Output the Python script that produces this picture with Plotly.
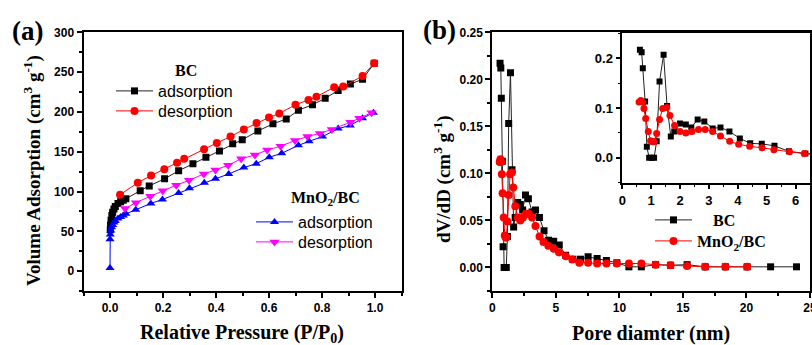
import plotly.graph_objects as go

# ---------------- data: (a) N2 isotherms ----------------
bc_ads_p = [0.001, 0.002, 0.004, 0.007, 0.010, 0.015, 0.020, 0.030, 0.040, 0.050, 0.060,
            0.114, 0.148, 0.206, 0.259, 0.313, 0.362, 0.413, 0.463, 0.499, 0.558, 0.615,
            0.665, 0.711, 0.764, 0.812, 0.861, 0.907, 0.953, 0.997]
bc_ads_v = [52, 58, 64, 70, 74, 78, 81, 85, 87, 89, 91,
            101, 107, 116, 126, 135, 143, 151, 160, 165, 176, 185,
            191, 202, 209, 217, 227, 235, 241, 261]

bc_des_p = [0.038, 0.105, 0.155, 0.205, 0.253, 0.280, 0.355, 0.403, 0.455, 0.505, 0.553,
            0.600, 0.639, 0.700, 0.749, 0.779, 0.846, 0.880, 0.953, 0.997]
bc_des_v = [96, 111, 120, 128, 136, 141, 153, 161, 169, 178, 186,
            193, 198, 209, 215, 219, 231, 232, 245, 261]

mn_ads_p = [0.0, 0.0, 0.001, 0.003, 0.006, 0.010, 0.015, 0.020, 0.030, 0.040, 0.050, 0.060,
            0.097, 0.154, 0.198, 0.259, 0.300, 0.356, 0.398, 0.448, 0.505, 0.552, 0.601,
            0.648, 0.711, 0.751, 0.802, 0.861, 0.907, 0.953, 0.994]
mn_ads_v = [4, 40, 46, 51, 55, 58, 61, 63, 66, 68, 70, 72,
            77, 85, 90, 98, 104, 111, 116, 122, 130, 135, 143,
            148, 158, 163, 169, 179, 183, 192, 199]

mn_des_p = [0.057, 0.098, 0.152, 0.199, 0.250, 0.298, 0.354, 0.398, 0.446, 0.495, 0.547,
            0.593, 0.644, 0.698, 0.745, 0.792, 0.837, 0.907, 0.941, 0.987]
mn_des_v = [78.5, 86, 94, 101, 108, 114, 122, 127, 133, 141, 146,
            152, 157, 164, 169, 173, 178, 187, 192, 199]

# ---------------- data: (b) pore size distribution ----------------
bc_d = [0.61, 0.67, 0.71, 0.79, 0.85, 0.93, 1.02, 1.10, 1.19, 1.29, 1.43, 1.55, 1.68, 1.80,
        2.00, 2.20, 2.39, 2.61, 2.84, 3.13, 3.40, 3.71, 4.07, 4.43, 4.83, 5.27, 5.77, 6.34,
        6.94, 7.54, 8.25, 8.98, 9.80, 10.75, 11.73, 12.85, 14.03, 15.33, 16.75, 18.34,
        20.05, 21.90, 23.94]
bc_dv = [0.217, 0.212, 0.180, 0.113, 0.022, 0.0, 0.0, 0.0, 0.033, 0.153, 0.207, 0.104, 0.043,
         0.053, 0.069, 0.067, 0.061, 0.077, 0.073, 0.059, 0.061, 0.053, 0.039, 0.029, 0.028,
         0.024, 0.013, 0.0088, 0.0088, 0.0113, 0.0096, 0.0074, 0.0050, 0.0007, 0.0007, 0.0030,
         0.0024, 0.0030, 0.0007, 0.0007, 0.0007, 0.0007, 0.0007]

mn_d = [0.58, 0.64, 0.70, 0.75, 0.81, 0.90, 0.98, 1.05, 1.11, 1.19, 1.29, 1.40, 1.54, 1.65,
        1.81, 2.00, 2.20, 2.41, 2.64, 2.87, 3.13, 3.40, 3.72, 4.03, 4.41, 4.84, 5.25, 5.79,
        6.30, 6.85, 7.54, 8.25, 8.98, 9.80, 10.75, 11.73, 12.85, 14.03, 15.33, 16.75, 18.34,
        20.05]
mn_dv = [0.112, 0.115, 0.112, 0.099, 0.079, 0.053, 0.034, 0.032, 0.032, 0.049, 0.077, 0.099,
         0.101, 0.085, 0.065, 0.053, 0.050, 0.053, 0.057, 0.057, 0.053, 0.044, 0.033, 0.027,
         0.023, 0.020, 0.016, 0.012, 0.0085, 0.0050, 0.0050, 0.0042, 0.0042, 0.0042, 0.0042,
         0.0042, 0.0030, 0.0024, 0.0017, 0.0007, 0.0007, 0.0007]

W, H = 812, 345
SANS = "Liberation Sans"
SERIF = "Liberation Serif"

def px(x):
    return x / W

def py(y):
    return 1 - y / H

fig = go.Figure()

# (a)
fig.add_trace(go.Scatter(x=bc_ads_p, y=bc_ads_v, mode="lines+markers", name="adsorption",
                         line=dict(color="#222222", width=1),
                         marker=dict(symbol="square", size=7, color="black"),
                         xaxis="x", yaxis="y", legend="legend"))
fig.add_trace(go.Scatter(x=bc_des_p, y=bc_des_v, mode="lines+markers", name="desorption",
                         line=dict(color="red", width=1),
                         marker=dict(symbol="circle", size=8, color="red"),
                         xaxis="x", yaxis="y", legend="legend2"))
fig.add_trace(go.Scatter(x=mn_ads_p, y=mn_ads_v, mode="lines+markers", name="adsorption",
                         line=dict(color="blue", width=1),
                         marker=dict(symbol="triangle-up", size=8, color="blue"),
                         xaxis="x", yaxis="y", legend="legend3"))
fig.add_trace(go.Scatter(x=mn_des_p, y=mn_des_v, mode="lines+markers", name="desorption",
                         line=dict(color="magenta", width=1),
                         marker=dict(symbol="triangle-down", size=9, color="magenta"),
                         xaxis="x", yaxis="y", legend="legend4"))

# (b) main
fig.add_trace(go.Scatter(x=bc_d, y=bc_dv, mode="lines+markers", name="\u00a0\u00a0\u00a0\u00a0BC",
                         line=dict(color="#222222", width=1),
                         marker=dict(symbol="square", size=7, color="black"),
                         xaxis="x2", yaxis="y2", legend="legend5"))
fig.add_trace(go.Scatter(x=mn_d, y=mn_dv, mode="lines+markers", name="MnO<sub>2</sub>/BC",
                         line=dict(color="red", width=1),
                         marker=dict(symbol="circle", size=8, color="red"),
                         xaxis="x2", yaxis="y2", legend="legend6"))
# (b) inset
fig.add_trace(go.Scatter(x=bc_d, y=bc_dv, mode="lines+markers", showlegend=False,
                         line=dict(color="#222222", width=1),
                         marker=dict(symbol="square", size=6, color="black"),
                         xaxis="x3", yaxis="y3"))
fig.add_trace(go.Scatter(x=mn_d, y=mn_dv, mode="lines+markers", showlegend=False,
                         line=dict(color="red", width=1),
                         marker=dict(symbol="circle", size=7, color="red"),
                         xaxis="x3", yaxis="y3"))

tickfont = dict(family=SANS, size=12, color="black", weight="bold")
axcommon = dict(showline=True, mirror=True, linecolor="black", showgrid=False, zeroline=False,
                automargin=False, ticklabeloverflow="allow",
                ticks="outside", tickcolor="black", tickwidth=1.5, ticklen=5, tickfont=tickfont)

fig.update_layout(
    template="none",
    width=W, height=H, autosize=False,
    margin=dict(l=0, r=0, t=0, b=0, pad=0, autoexpand=False),
    paper_bgcolor="white", plot_bgcolor="white",
    xaxis=dict(axcommon, domain=[px(83.5), px(401.5)], range=[-0.1, 1.1], anchor="y",
               dtick=0.2, tick0=0, tickformat=".1f", linewidth=2,
               minor=dict(dtick=0.1, ticks="outside", ticklen=3, tickcolor="black", tickwidth=1.5)),
    yaxis=dict(axcommon, domain=[py(291), py(32.3)], range=[-25, 300], anchor="x",
               dtick=50, tick0=0, linewidth=2,
               minor=dict(dtick=25, ticks="outside", ticklen=3, tickcolor="black", tickwidth=1.5)),
    xaxis2=dict(axcommon, domain=[px(492.3), px(810)], range=[0, 25], anchor="y2",
                dtick=5, tick0=0, linewidth=2,
                minor=dict(dtick=2.5, ticks="outside", ticklen=3, tickcolor="black", tickwidth=1.5)),
    yaxis2=dict(axcommon, domain=[py(291), py(32.3)], range=[-0.025, 0.25], anchor="x2",
                dtick=0.05, tick0=0, tickformat=".2f", linewidth=2,
                minor=dict(dtick=0.025, ticks="outside", ticklen=3, tickcolor="black", tickwidth=1.5)),
    xaxis3=dict(axcommon, domain=[px(622.3), px(810)], range=[0, 6.5], anchor="y3",
                dtick=1, tick0=0, linewidth=1.5,
                tickfont=dict(family=SANS, size=13, color="black", weight="bold"),
                minor=dict(dtick=0.5, ticks="outside", ticklen=3, tickcolor="black", tickwidth=1.2)),
    yaxis3=dict(axcommon, domain=[py(182.7), py(33.3)], range=[-0.05, 0.25], anchor="x3",
                dtick=0.1, tick0=0, tickformat=".1f", linewidth=1.5,
                tickfont=dict(family=SANS, size=13, color="black", weight="bold"),
                minor=dict(dtick=0.05, ticks="outside", ticklen=3, tickcolor="black", tickwidth=1.2)),
)

legfont_a = dict(family=SANS, size=16, color="black")
legfont_b = dict(family=SERIF, size=16, color="black", weight="bold")

def leg(x, y, font):
    return dict(x=px(x), y=py(y), xanchor="left", yanchor="middle", bgcolor="rgba(0,0,0,0)",
                borderwidth=0, font=font, itemwidth=37, tracegroupgap=0)

fig.update_layout(
    legend=leg(111, 91, legfont_a),
    legend2=leg(111, 111, legfont_a),
    legend3=leg(251, 222, legfont_a),
    legend4=leg(251, 242, legfont_a),
    legend5=leg(650, 220, legfont_b),
    legend6=leg(650, 241, legfont_b),
)

ann = []
def add_text(text, x, y, size, family=SERIF, angle=0, bold=True):
    ann.append(dict(text=text, x=px(x), y=py(y), xref="paper", yref="paper", showarrow=False,
                    xanchor="center", yanchor="middle", textangle=angle,
                    font=dict(family=family, size=size, color="black",
                              weight="bold" if bold else "normal")))

add_text("BC", 185.5, 71, 16)
add_text("MnO<sub>2</sub>/BC", 325, 198, 16)
add_text("Volume Adsorption (cm<sup>3</sup> g<sup>-1</sup>)", 32, 171, 19, angle=-90)
add_text("dV/dD (cm<sup>3</sup> g<sup>-1</sup>)", 442, 179, 19, angle=-90)
add_text("Relative Pressure (P/P<sub>0</sub>)", 242, 333, 20)
add_text("Pore diamter (nm)", 651, 333, 20)
add_text("(a)", 27, 31, 27)
add_text("(b)", 439, 30, 27)
fig.update_layout(annotations=ann)

fig.write_html("out.html", config={"displayModeBar": False, "responsive": False},
               post_script="document.body.style.margin='0';document.body.style.overflow='hidden';"
                           "document.documentElement.style.overflow='hidden';")
